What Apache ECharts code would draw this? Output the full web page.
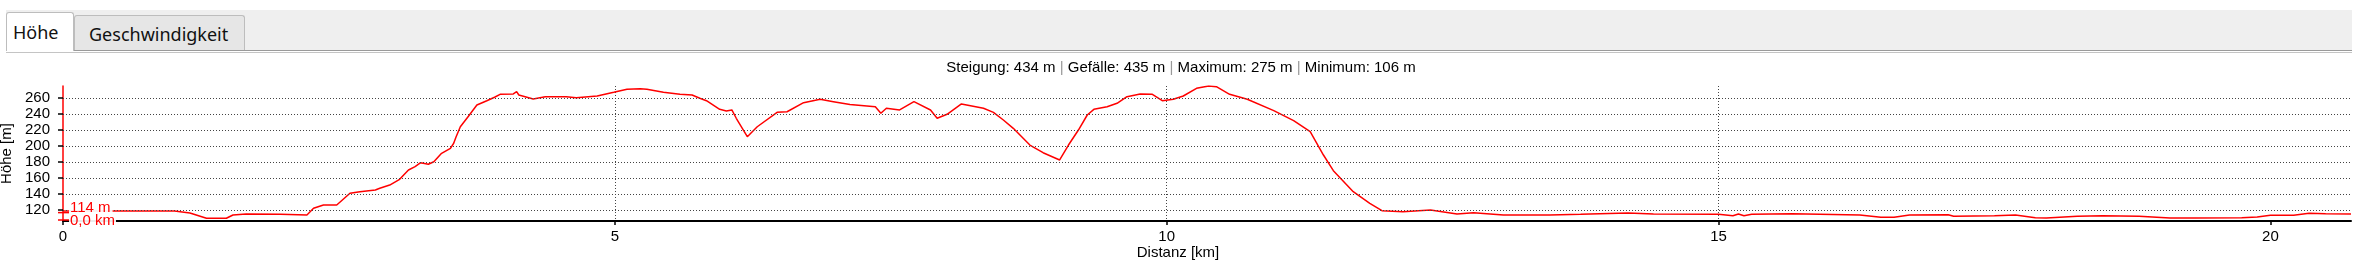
<!DOCTYPE html>
<html>
<head>
<meta charset="utf-8">
<script src="https://cdn.jsdelivr.net/npm/echarts@6/dist/echarts.min.js"></script>
<style>
  html, body { margin: 0; padding: 0; background: #fff; }
  #wrap { position: relative; width: 2362px; height: 270px; overflow: hidden; }
  #chart { position: absolute; left: 0; top: 0; width: 2362px; height: 270px; }
  .tabbar { position: absolute; left: 6px; top: 10px; width: 2346px; height: 40px; background: #efefef; }
  .line1 { position: absolute; left: 6px; top: 50px; width: 2346px; height: 1px; background: #9a9a9a; }
  .line2 { position: absolute; left: 6px; top: 52px; width: 2346px; height: 1px; background: #c4c4c4; }
  .tab { position: absolute; box-sizing: border-box; font-family: "Noto Sans", sans-serif; font-size: 18px; color: #111;
         border: 1px solid #bdbdbd; border-bottom: none; border-radius: 3px 3px 0 0; line-height: 1; }
  .tab span { position: absolute; top: 50%; transform: translateY(-50%); white-space: nowrap; }
  #t1 { left: 6px; top: 12px; width: 68px; height: 39px; background: #fff; }
  #t1 span { left: 6px; }
  #t2 { left: 74px; top: 15px; width: 171px; height: 35px; background: #e6e6e6; }
  #t2 span { left: 14px; top: 53%; }
</style>
</head>
<body>
<div id="wrap">
  <div id="chart"></div>
  <div class="tabbar"></div>
  <div class="line1"></div>
  <div class="line2"></div>
  <div class="tab" id="t1"><span>Höhe</span></div>
  <div class="tab" id="t2"><span>Geschwindigkeit</span></div>
</div>
<script>
// ---- data ----
const distanceKm = [
  0.00, 0.44, 1.01, 1.15, 1.30, 1.48, 1.54, 1.66, 1.97, 2.21, 2.27, 2.36, 2.48, 2.60, 2.69, 2.83, 2.87, 2.96,
  3.05, 3.13, 3.19, 3.24, 3.31, 3.36, 3.43, 3.51, 3.54, 3.56, 3.60, 3.67, 3.75, 3.84, 3.91, 3.96,
  4.08, 4.11, 4.13, 4.26, 4.37, 4.56, 4.65, 4.84, 4.99, 5.11, 5.23, 5.29, 5.44, 5.59, 5.70, 5.77, 5.83, 5.95,
  6.01, 6.06, 6.10, 6.20, 6.29, 6.47, 6.56, 6.71, 6.86, 6.98, 7.13, 7.36, 7.41, 7.46, 7.58, 7.71, 7.86, 7.92,
  8.01, 8.14, 8.34, 8.43, 8.52, 8.61, 8.76, 8.88, 9.03, 9.11, 9.20, 9.28, 9.34, 9.46, 9.55, 9.64, 9.76, 9.87, 9.96,
  10.06, 10.15, 10.27, 10.38, 10.45, 10.57, 10.73, 10.97, 11.15, 11.30, 11.42, 11.51, 11.69, 11.84, 11.95,
  12.14, 12.39, 12.63, 12.78, 13.05, 13.47, 13.75, 14.18, 14.41, 15.00, 15.13, 15.18, 15.23, 15.30, 15.67,
  16.28, 16.47, 16.59, 16.73, 17.08, 17.13, 17.50, 17.69, 17.87, 17.97, 18.25, 18.48, 18.81, 19.09, 19.32,
  19.74, 19.88, 20.00, 20.21, 20.35, 20.50, 20.73
];
const elevationM = [
  118.5, 118.5, 118.5, 116.0, 109.4, 109.4, 113.5, 114.8, 114.4, 113.5, 121.9, 126.0, 126.0, 140.7, 142.7, 144.8, 147.0, 151.0,
  158.2, 169.8, 174.0, 179.0, 177.0, 180.2, 190.7, 197.0, 203.3, 210.8, 224.0, 236.6, 251.2, 256.6, 260.9, 264.6,
  265.0, 267.9, 263.7, 258.7, 261.6, 261.6, 260.4, 262.5, 267.1, 270.9, 271.6, 270.9, 267.1, 264.6, 263.7, 259.6, 256.6, 245.8,
  243.7, 245.0, 234.6, 211.5, 224.0, 242.0, 242.8, 254.1, 258.4, 255.4, 251.7, 249.1, 240.8, 247.1, 245.0, 255.4, 245.0, 234.6,
  239.6, 252.5, 247.1, 242.0, 232.4, 222.0, 201.1, 191.5, 182.4, 201.1, 219.9, 238.7, 245.8, 249.1, 253.3, 261.6, 265.0, 264.6, 256.6,
  258.4, 262.5, 272.1, 275.0, 274.1, 264.6, 258.4, 244.1, 231.6, 217.8, 188.6, 169.0, 142.7, 128.2, 118.9,
  117.6, 119.8, 114.8, 116.4, 113.5, 113.5, 114.4, 116.0, 114.8, 114.4, 112.6, 114.8, 112.6, 114.4, 115.2,
  113.5, 110.6, 110.6, 113.5, 113.9, 111.9, 112.6, 113.5, 110.1, 109.8, 111.9, 112.6, 111.9, 109.8, 109.8,
  110.1, 111.0, 113.1, 113.1, 115.6, 115.2, 114.8
];
const yTicks = [120, 140, 160, 180, 200, 220, 240, 260];
const xTicks = [0, 5, 10, 15, 20];
const yRange = [106, 275];
const xRange = [0, 20.73];
const statLabels = ["Steigung", "Gefälle", "Maximum", "Minimum"];
const statValues = [434, 435, 275, 106];
const cursorKm = 0;
const cursorM = 114;

// ---- chart ----
const chart = echarts.init(document.getElementById('chart'), null, { renderer: 'canvas' });
const FONT = '"Liberation Sans", Arial, sans-serif';
const titleText = statLabels.map((l, i) => l + ': ' + statValues[i] + ' m').join(' {p||} ');
const seriesData = distanceKm.map((d, i) => [d, elevationM[i]]);
const dotted = { color: '#444', width: 1, type: [1, 2] };

chart.setOption({
  backgroundColor: '#fff',
  animation: false,
  textStyle: { fontFamily: FONT },
  title: {
    text: titleText, left: 'center', top: 60, padding: 0,
    textStyle: { fontSize: 15, fontWeight: 'normal', color: '#000', fontFamily: FONT,
      rich: { p: { color: '#999', fontSize: 15, fontFamily: FONT } } }
  },
  grid: { left: 63, right: 11, top: 86, bottom: 49, containLabel: false, outerBoundsMode: 'none' },
  xAxis: {
    type: 'value', min: xRange[0], max: xRange[1], interval: 5,
    name: 'Distanz [km]', nameLocation: 'middle', nameGap: 23,
    nameTextStyle: { fontSize: 15, color: '#000', fontFamily: FONT, padding: [0, 58, 0, 0] },
    axisLine: { show: true, lineStyle: { color: '#000', width: 2 } },
    axisTick: { show: true, length: 4, customValues: xTicks, lineStyle: { color: '#000', width: 1.5 } },
    axisLabel: { customValues: xTicks, fontSize: 15, color: '#000', margin: 8, fontFamily: FONT },
    splitLine: { show: true, showMinLine: false, showMaxLine: false, lineStyle: dotted }
  },
  yAxis: {
    type: 'value', min: yRange[0], max: yRange[1],
    name: 'Höhe [m]', nameLocation: 'middle', nameGap: 43,
    nameTextStyle: { fontSize: 15, color: '#000', fontFamily: FONT },
    axisLine: { show: true, lineStyle: { color: '#ff0000', width: 1.5 } },
    axisTick: { show: true, length: 5, customValues: yTicks, lineStyle: { color: '#000', width: 1.5 } },
    axisLabel: { customValues: yTicks, fontSize: 15, color: '#000', margin: 13, fontFamily: FONT },
    splitLine: { show: false }
  },
  series: [{
    type: 'line', data: seriesData, symbol: 'none', silent: true,
    lineStyle: { color: '#ff0000', width: 1.5 },
    markLine: {
      silent: true, symbol: 'none', animation: false,
      label: { show: false },
      lineStyle: dotted,
      data: yTicks.map(v => ({ yAxis: v }))
    },
    z: 3
  }]
});

// cursor annotations (start position)
const p = chart.convertToPixel({ gridIndex: 0 }, [cursorKm, cursorM]);
const pAxis = chart.convertToPixel({ gridIndex: 0 }, [cursorKm, yRange[0]]);
chart.setOption({
  graphic: [
    { type: 'line', z: 100, shape: { x1: p[0] - 5, y1: p[1] - 2, x2: p[0] + 6, y2: p[1] - 2 }, style: { stroke: '#ff0000', lineWidth: 1.5 } },
    { type: 'text', z: 100, x: p[0] + 6, y: p[1] + 1, style: {
        text: cursorM + ' m', fill: '#ff0000', font: '15px ' + FONT, verticalAlign: 'bottom',
        backgroundColor: 'rgba(255,255,255,0.92)', padding: [0, 2, 0, 1] } },
    { type: 'line', z: 100, shape: { x1: pAxis[0] - 5, y1: pAxis[1] - 1, x2: pAxis[0] + 6, y2: pAxis[1] - 1 }, style: { stroke: '#ff0000', lineWidth: 1.5 } },
    { type: 'text', z: 100, x: pAxis[0] + 6, y: pAxis[1], style: {
        text: cursorKm.toFixed(1).replace('.', ',') + ' km', fill: '#ff0000', font: '15px ' + FONT, verticalAlign: 'middle',
        backgroundColor: 'rgba(255,255,255,0.92)', padding: [0, 1, 0, 1] } }
  ]
});
</script>
</body>
</html>
